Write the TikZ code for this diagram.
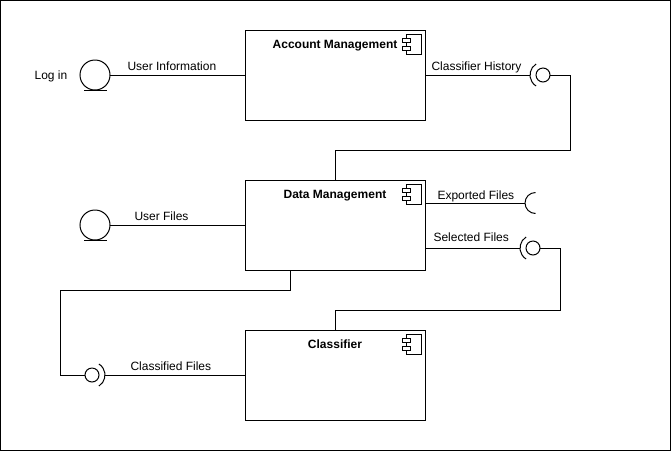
\documentclass[tikz,border=0pt]{standalone}
\usepackage{fontspec}
\setmainfont{Liberation Sans}
\begin{document}
\begin{tikzpicture}[x=1pt,y=-1pt,line width=1pt,
    every node/.style={font=\fontsize{12pt}{14pt}\selectfont},
    component/.style={draw,rectangle,minimum width=180pt,minimum height=90pt,inner sep=0pt,outer sep=0pt},
    title/.style={anchor=base,font=\fontsize{12pt}{14pt}\selectfont\bfseries},
    lbl/.style={anchor=base west,inner sep=0pt},
    ball/.style={draw,circle,minimum size=14pt,inner sep=0pt,outer sep=0pt},
    entity/.style={draw,circle,minimum size=30pt,inner sep=0pt,outer sep=0pt},
    socket/.style={circle,minimum size=26pt,inner sep=0pt,outer sep=0pt}]
\useasboundingbox (0,0) rectangle (671,451);
\draw (0.5,0.5) rectangle (670.5,450.5);
% components
\node[component] (acct) at (335,75) {};
\node[title] at ([yshift=-18pt]acct.north) {Account Management};
\node[component] (dm) at (335,225) {};
\node[title] at ([yshift=-18pt]dm.north) {Data Management};
\node[component] (cls) at (335,375) {};
\node[title] at ([yshift=-18pt]cls.north) {Classifier};
\foreach \c in {acct,dm,cls} {
  \begin{scope}[shift={(\c.north east)},line width=0.8pt]
    \draw (-19,4) rectangle (-4,24);
    \draw[fill=white] (-23,8) rectangle (-15,12.5);
    \draw[fill=white] (-23,16) rectangle (-15,20.5);
  \end{scope}
}
% log in
\node[entity] (login) at (95,75) {};
\draw ([xshift=-11pt]login.south) -- ([xshift=12pt]login.south);
\node[anchor=base] (logintxt) at (51,79.5) {Log in};
\draw (login) -- (acct);
\node[lbl] (userinfo) at (127,70) {User Information};
% classifier history
\node[ball] (hist) at (543,75) {};
\node[socket] (histsock) at (hist) {};
\draw (histsock.122) arc[start angle=122,end angle=238,radius=13pt];
\draw (acct) -- (histsock.west);
\coordinate (histbend) at (570,150);
\draw (hist.east) -| (histbend) -| (dm.north);
\node[lbl] (histtxt) at (431,70) {Classifier History};
% user files
\node[entity] (ufiles) at (95,225) {};
\draw ([xshift=-11pt]ufiles.south) -- ([xshift=12pt]ufiles.south);
\draw (ufiles) -- (dm);
\node[lbl] (ufilestxt) at (134,220) {User Files};
% exported files
\node[circle,minimum size=21pt,inner sep=0pt,outer sep=0pt] (exp) at (535.5,203) {};
\draw (exp.north) arc[start angle=90,end angle=270,radius=10.5pt];
\draw (dm.east |- exp) -- (exp.west);
\node[lbl] (exptxt) at (437,199) {Exported Files};
% selected files
\node[ball] (sel) at (533,248) {};
\node[socket] (selsock) at (sel) {};
\draw (selsock.122) arc[start angle=122,end angle=238,radius=13pt];
\draw (dm.east |- sel) -- (selsock.west);
\coordinate (selbend) at (560,310);
\draw (sel.east) -| (selbend) -| (cls.north);
\node[lbl] (seltxt) at (433,241) {Selected Files};
% classified files
\node[ball] (clsd) at (92,375) {};
\node[socket] (clsdsock) at (clsd) {};
\draw (clsdsock.-58) arc[start angle=-58,end angle=58,radius=13pt];
\draw (clsdsock.east) -- (cls);
\coordinate (clsdbend) at (60,290);
\draw ([xshift=-45pt]dm.south) |- (clsdbend) |- (clsd.west);
\node[lbl] (clsdtxt) at (130,370.5) {Classified Files};
\end{tikzpicture}
\end{document}
